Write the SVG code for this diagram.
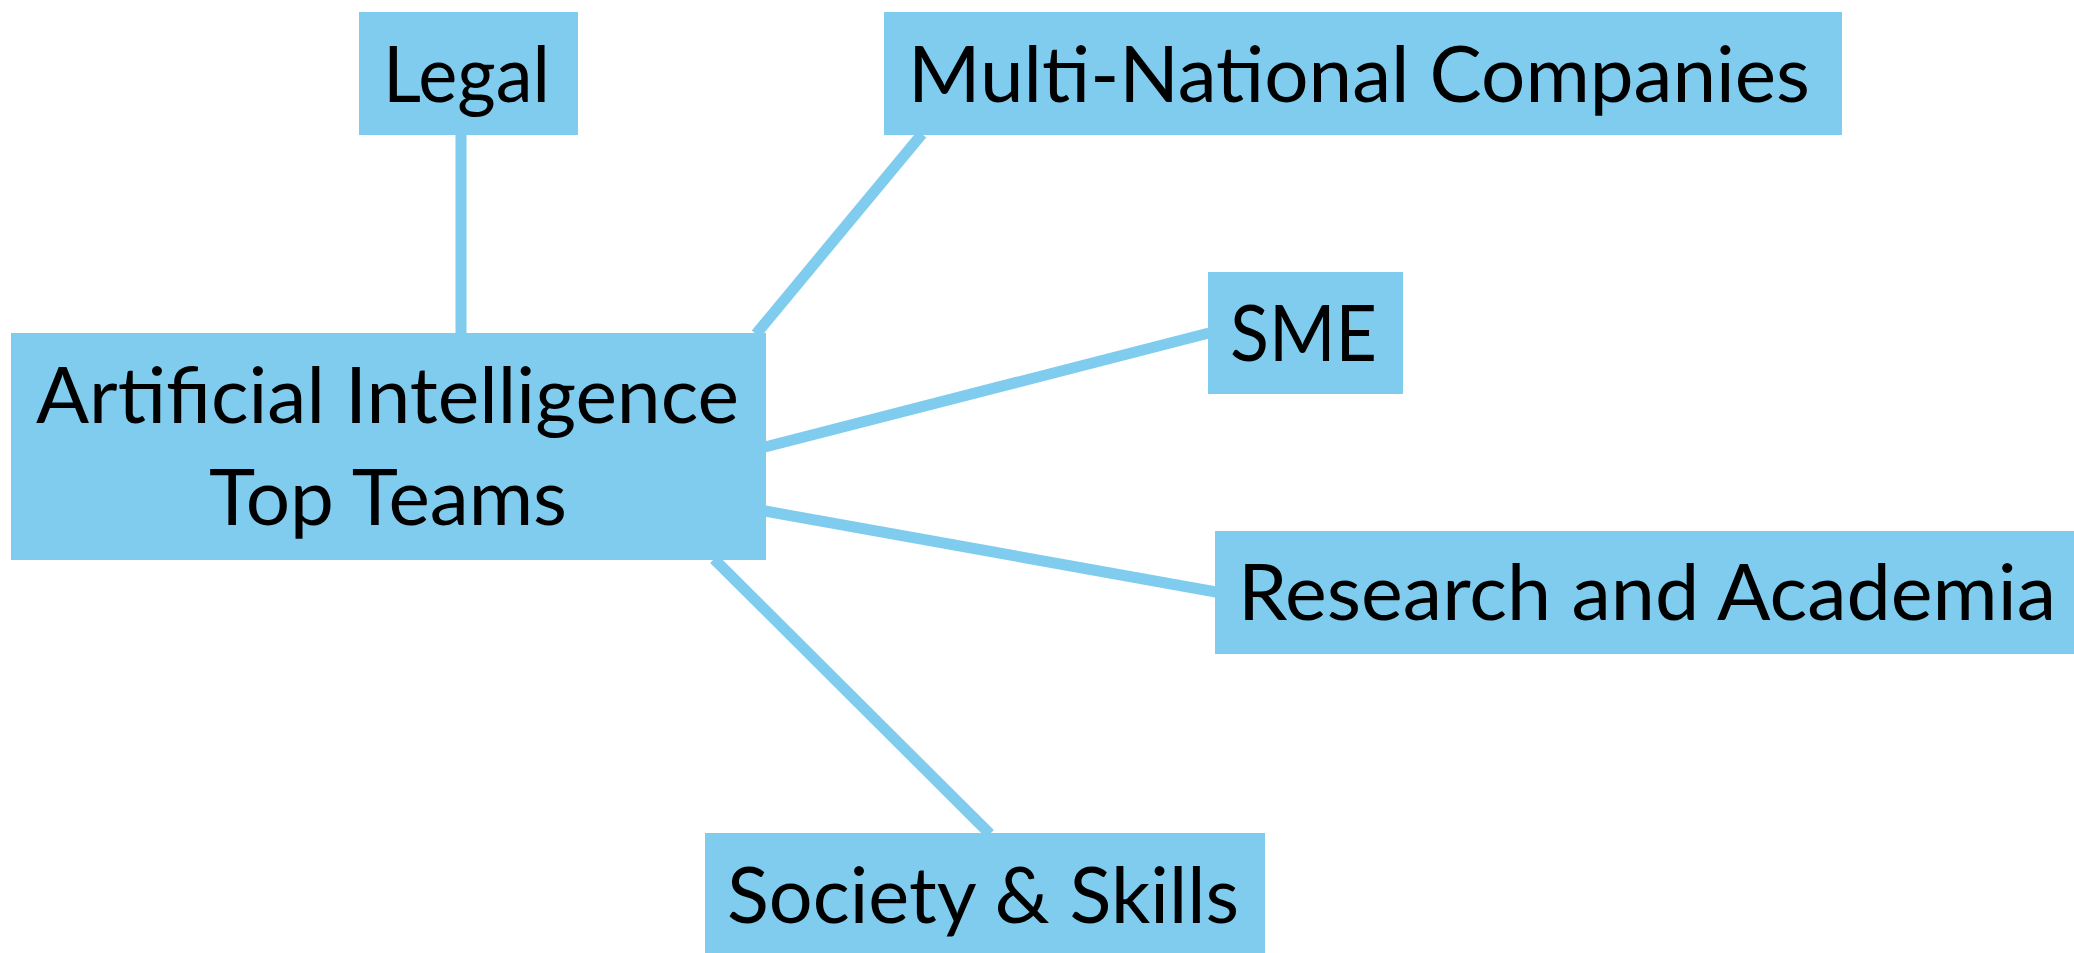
<svg xmlns="http://www.w3.org/2000/svg" width="2074" height="953" viewBox="0 0 2074 953">
<style>
.box{fill:#7FCCEE}
.lbl{font-family:Lato,"Open Sans","Liberation Sans",sans-serif;font-size:77px;fill:#000}
.edge{stroke:#7FCCEE;stroke-width:11;fill:none}
</style>
<rect width="2074" height="953" fill="#fff"/>
<g id="connectors">
<line class="edge" x1="461" y1="134" x2="461" y2="334"/>
<line class="edge" x1="922" y1="134" x2="756" y2="334"/>
<line class="edge" x1="765" y1="447" x2="1209" y2="333"/>
<line class="edge" x1="765" y1="511" x2="1216" y2="592"/>
<line class="edge" x1="714" y1="559" x2="990" y2="834"/>
</g>
<g id="node-center">
<rect class="box" x="11" y="333" width="755" height="227"/>
<text class="lbl" x="36" y="423" textLength="703" lengthAdjust="spacingAndGlyphs">Artificial Intelligence</text>
<text class="lbl" x="209" y="525" textLength="358" lengthAdjust="spacingAndGlyphs">Top Teams</text>
</g>
<g id="node-legal">
<rect class="box" x="359" y="12" width="219" height="123"/>
<text class="lbl" x="383" y="102" textLength="167" lengthAdjust="spacingAndGlyphs">Legal</text>
</g>
<g id="node-mnc">
<rect class="box" x="884" y="12" width="958" height="123"/>
<text class="lbl" x="908" y="102" textLength="902" lengthAdjust="spacingAndGlyphs">Multi-National Companies</text>
</g>
<g id="node-sme">
<rect class="box" x="1208" y="272" width="195" height="122"/>
<text class="lbl" x="1230" y="361" textLength="147" lengthAdjust="spacingAndGlyphs">SME</text>
</g>
<g id="node-research">
<rect class="box" x="1215" y="531" width="859" height="123"/>
<text class="lbl" x="1238" y="620" textLength="818" lengthAdjust="spacingAndGlyphs">Research and Academia</text>
</g>
<g id="node-society">
<rect class="box" x="705" y="833" width="560" height="120"/>
<text class="lbl" x="727" y="923" textLength="512" lengthAdjust="spacingAndGlyphs">Society &amp; Skills</text>
</g>
</svg>
